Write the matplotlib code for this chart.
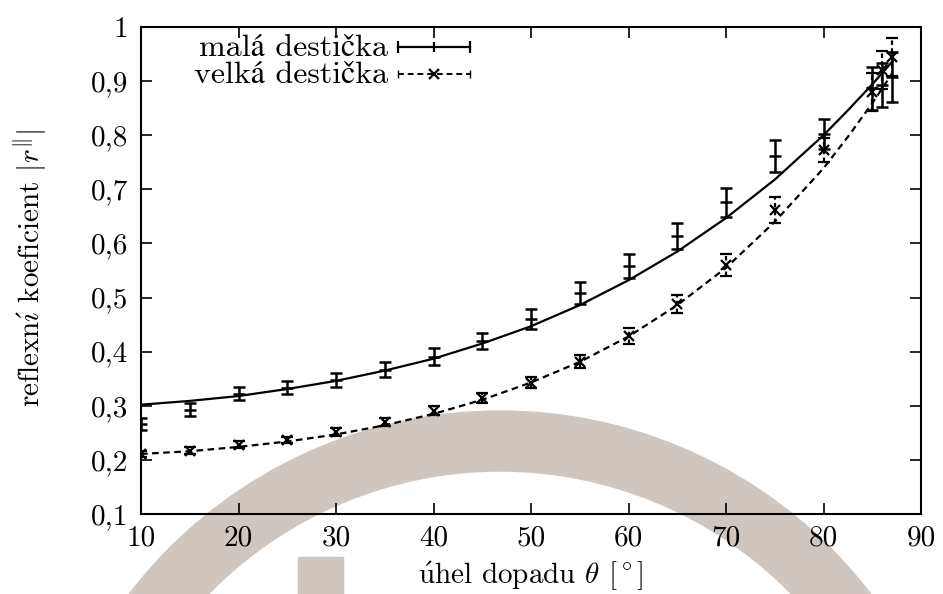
import matplotlib
matplotlib.use("Agg")
import matplotlib.pyplot as plt
from matplotlib.patches import Wedge, Rectangle
from matplotlib.transforms import IdentityTransform

# measured angles [deg]
uhel = [10, 15, 20, 25, 30, 35, 40, 45, 50, 55, 60, 65, 70, 75, 80, 85, 86, 87]

# mala desticka
mala_r = [0.267, 0.293, 0.322, 0.333, 0.347, 0.367, 0.391, 0.420, 0.460, 0.508,
          0.558, 0.613, 0.676, 0.762, 0.802, 0.887, 0.893, 0.908]
mala_err = [0.011, 0.012, 0.012, 0.012, 0.013, 0.014, 0.015, 0.015, 0.018, 0.020,
            0.022, 0.024, 0.027, 0.030, 0.028, 0.040, 0.040, 0.046]

# velka desticka
velka_r = [0.211, 0.217, 0.228, 0.237, 0.252, 0.270, 0.291, 0.314, 0.343, 0.381,
           0.429, 0.488, 0.560, 0.662, 0.772, 0.880, 0.920, 0.945]
velka_err = [0.005, 0.006, 0.006, 0.006, 0.007, 0.008, 0.008, 0.009, 0.010, 0.012,
             0.014, 0.017, 0.021, 0.024, 0.022, 0.035, 0.035, 0.035]

# fitted curves
fit_uhel = [10, 15, 20, 25, 30, 35, 40, 45, 50, 55, 60, 65, 70, 75, 80, 82.5, 85, 87]
fit_mala = [0.302, 0.309, 0.318, 0.331, 0.346, 0.365, 0.387, 0.415, 0.447, 0.486,
            0.532, 0.585, 0.647, 0.718, 0.800, 0.846, 0.894, 0.935]
fit_velka = [0.211, 0.216, 0.224, 0.234, 0.247, 0.264, 0.285, 0.311, 0.343, 0.381,
             0.428, 0.486, 0.555, 0.640, 0.739, 0.797, 0.859, 0.913]

xticks = [10, 20, 30, 40, 50, 60, 70, 80, 90]
yticks = [0.1, 0.2, 0.3, 0.4, 0.5, 0.6, 0.7, 0.8, 0.9, 1.0]
ytick_labels = ["0,1", "0,2", "0,3", "0,4", "0,5", "0,6", "0,7", "0,8", "0,9", "1"]

plt.rcParams['font.family'] = ['cmr10', 'STIXGeneral']
plt.rcParams['mathtext.fontset'] = 'cm'
plt.rcParams['axes.formatter.use_mathtext'] = True
plt.rcParams['axes.unicode_minus'] = False

fig = plt.figure(figsize=(9.43, 5.94), dpi=100)
ax = fig.add_axes([141/943, 1 - 514/594, 780/943, 487/594])
ax.set_facecolor('none')

# beige shapes in the background
beige = '#cec6bf'
fig.patches.append(Wedge((500, -284), 467, 0, 180, width=60, color=beige,
                         transform=IdentityTransform(), zorder=-5))
fig.patches.append(Rectangle((298, 0), 45, 37, color=beige,
                             transform=IdentityTransform(), zorder=-5))

fs = 21
cap = 4.3

ax.plot(fit_uhel, fit_mala, color='black', lw=1.6, zorder=3)
ax.plot(fit_uhel, fit_velka, color='black', lw=1.6, ls=(0, (3, 2)), zorder=3)

eb1 = ax.errorbar(uhel, mala_r, yerr=mala_err, fmt='none', ecolor='black',
                  elinewidth=1.8, capsize=cap, capthick=1.8, zorder=4)
ax.plot(uhel, mala_r, ls='none', marker='_', ms=8, mew=1.8, color='black', zorder=4)

eb2 = ax.errorbar(uhel, velka_r, yerr=velka_err, fmt='none', ecolor='black',
                  elinewidth=1.6, capsize=cap, capthick=1.6, zorder=4)
eb2[2][0].set_linestyle((0, (2, 1.5)))
ax.plot(uhel, velka_r, ls='none', marker='x', ms=7, mew=1.6, color='black', zorder=4)

ax.set_xlim(10, 90)
ax.set_ylim(0.1, 1.0)
ax.set_xticks(xticks)
ax.set_xticklabels([str(t) for t in xticks])
ax.set_yticks(yticks)
ax.set_yticklabels(ytick_labels)
ax.tick_params(direction='in', length=8, width=1.2, top=True, right=True,
               labelsize=fs, pad=9)
ax.tick_params(axis='x', pad=8)
for s in ax.spines.values():
    s.set_linewidth(1.5)

fig.text(531/943, 1 - 576/594, r"$\mathrm{\acute{u}}$hel dopadu $\theta$ [$^\circ$]",
         fontsize=fs, ha='center', va='center')
fig.text(30/943, 1 - 268/594, r"reflexn$\mathrm{\acute{\imath}}$ koeficient $|r^{\Vert}|$",
         fontsize=fs, ha='center', va='center', rotation=90)

# legend, gnuplot style
tr = ax.transAxes
lfs = 23
ax.text(0.317, 0.957, "malá destička", transform=tr, fontsize=lfs,
        ha='right', va='center')
ax.text(0.317, 0.9015, "velká destička", transform=tr, fontsize=lfs,
        ha='right', va='center')
ax.plot([0.3295, 0.4218], [0.959, 0.959], transform=tr, color='black', lw=1.6,
        marker='|', ms=8, mew=1.6, clip_on=False)
ax.plot([0.3756], [0.959], transform=tr, color='black', marker='|', ms=7, mew=1.6)
ax.plot([0.3295, 0.4218], [0.9035, 0.9035], transform=tr, color='black', lw=1.4,
        ls=(0, (3, 2)), marker='|', ms=6, mew=1.0, clip_on=False)
ax.plot([0.3756], [0.9035], transform=tr, color='black', marker='x', ms=7, mew=1.6)

fig.savefig("out.png", dpi=100)
